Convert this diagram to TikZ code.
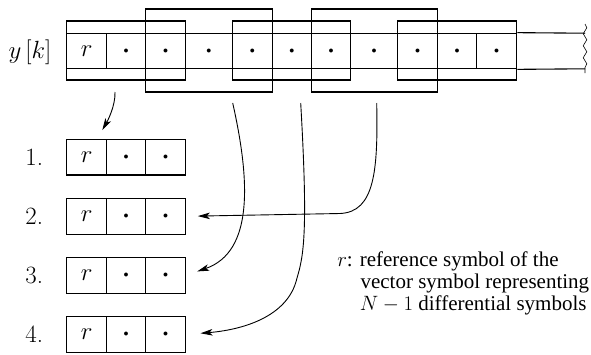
\documentclass[tikz,border=0pt]{standalone}
\usepackage{fontspec}
\newfontfamily\tmfont{Liberation Serif}
\usetikzlibrary{arrows.meta,decorations.pathmorphing}

\begin{document}
\begin{tikzpicture}[x=1pt,y=-1pt,line width=1.1pt,
  cell/.style={draw,minimum height=35.6pt,inner sep=0pt,font=\fontsize{24.88}{30}\selectfont},
  frame/.style={draw,inner sep=0pt},
  lbl/.style={font=\fontsize{24.88}{30}\selectfont},
  note/.style={anchor=base west,inner sep=0pt,text height=14pt,text depth=4pt,
    font=\fontsize{21}{24}\selectfont\tmfont},
  link/.style={-{Stealth[length=12pt,width=6.5pt,inset=3pt]},line width=0.9pt},
]
\newcommand\dt{{\fontsize{10}{10}\selectfont$\bullet$}}
\useasboundingbox (0,0) rectangle (591,354);

% the received sequence y[k]
\node[lbl] (yk) at (30,52.5) {$y\,[k]$};
\node[cell,minimum width=40pt]   (c0)  at (86.7,51)  {$r$};
\node[cell,minimum width=39pt]   (c1)  at (126.2,51) {\dt};
\node[cell,minimum width=39.6pt] (c2)  at (165.5,51) {\dt};
\node[cell,minimum width=47pt]   (c3)  at (208.8,51) {\dt};
\node[cell,minimum width=40pt]   (c4)  at (252.3,51) {\dt};
\node[cell,minimum width=39pt]   (c5)  at (291.8,51) {\dt};
\node[cell,minimum width=39.4pt] (c6)  at (331,51)   {\dt};
\node[cell,minimum width=47pt]   (c7)  at (374.2,51) {\dt};
\node[cell,minimum width=40pt]   (c8)  at (417.7,51) {\dt};
\node[cell,minimum width=39pt]   (c9)  at (457.2,51) {\dt};
\node[cell,minimum width=40pt]   (c10) at (496.7,51) {\dt};
\coordinate (tailtop) at (585,33.2);
\coordinate (tailbot) at (585,68.8);
\draw (c10.north east) -- (tailtop);
\draw (c10.south east) -- (tailbot);
\draw[line width=0.6pt,decorate,decoration={snake,amplitude=1.8pt,segment length=12pt}]
  (585,24) -- (585,73);

% overlapping windows of three symbols
\node[frame,minimum width=118.6pt,minimum height=59pt] (g1) at (126,50.5)   {};
\node[frame,minimum width=126.6pt,minimum height=83pt] (g2) at (209,50.5)   {};
\node[frame,minimum width=118.4pt,minimum height=59pt] (g3) at (291.5,50.5) {};
\node[frame,minimum width=126.4pt,minimum height=83pt] (g4) at (374.5,50.5) {};
\node[frame,minimum width=119pt,minimum height=59pt]   (g5) at (457.2,50.5) {};

% the extracted vector symbols
\foreach \k/\yy in {1/157.2,2/216.3,3/275.3,4/334.5}{
  \node[lbl] (n\k) at (34.2,\yy) {\k.};
  \node[cell,minimum width=40pt]   (r\k a) at (86.7,\yy)  {$r$};
  \node[cell,minimum width=39pt]   (r\k b) at (126.2,\yy) {\dt};
  \node[cell,minimum width=39.6pt] (r\k c) at (165.5,\yy) {\dt};
}

% connectors
\coordinate (s1) at (115,92);
\coordinate (s2) at (376.7,103);
\coordinate (s3) at (232.7,103);
\coordinate (s4) at (300.7,103);
\draw[link,shorten >=10pt] (s1) .. controls (115.5,106) and (107.5,121) .. (r1a.60);
\draw[link,shorten >=12pt] (s2) .. controls (378,170) and (375,212) .. (340,213.5) -- (r2c.east);
\draw[link,shorten >=12pt] (s3) .. controls (250,180) and (254,252) .. (r3c.east);
\draw[link,shorten >=14.7pt] (s4) .. controls (308,230) and (304,255) .. (297,278)
  .. controls (288,318) and (240,330) .. (r4c.east);

% legend
\node[note] (t1) at (336.7,266) {$r$: reference symbol of the};
\node[note] (t2) at (360,288.3) {vector symbol representing};
\node[note] (t3) at (359.3,310) {$N-1$ differential symbols};
\end{tikzpicture}
\end{document}
